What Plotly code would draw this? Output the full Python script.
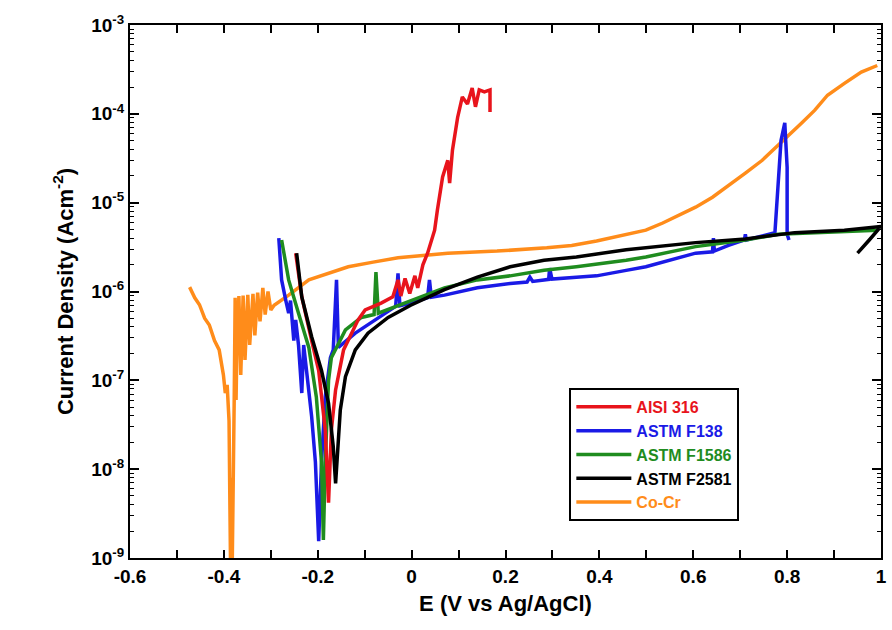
import plotly.graph_objects as go

# ---- data (E in V vs Ag/AgCl, current density in A/cm^2) ----
aisi316_E = [-0.247, -0.234, -0.213, -0.198, -0.184, -0.177, -0.171, -0.162, -0.145, -0.114,
             -0.099, -0.065, -0.040, -0.029, -0.023, -0.014, -0.004, 0.007, 0.013, 0.024,
             0.034, 0.049, 0.055, 0.066, 0.077, 0.081, 0.087, 0.098, 0.108, 0.119,
             0.129, 0.136, 0.144, 0.155, 0.167, 0.167]
aisi316_I = [2.7e-6, 8.7e-7, 2.8e-7, 1.29e-7, 2.75e-8, 4.2e-9, 2.75e-8, 7.8e-8, 2.2e-7, 4.8e-7,
             6.2e-7, 7.4e-7, 8.7e-7, 1.35e-6, 8.9e-7, 1.4e-6, 9.5e-7, 1.5e-6, 1.1e-6, 2.0e-6,
             2.7e-6, 4.9e-6, 8.3e-6, 1.95e-5, 3.0e-5, 1.66e-5, 3.9e-5, 9.1e-5, 1.55e-4, 1.29e-4,
             1.95e-4, 1.2e-4, 1.86e-4, 1.77e-4, 1.86e-4, 1.05e-4]

f138_E = [-0.283, -0.277, -0.268, -0.262, -0.258, -0.251, -0.247, -0.241, -0.234, -0.230,
          -0.224, -0.213, -0.205, -0.198, -0.192, -0.184, -0.173, -0.167, -0.160, -0.156,
          -0.120, -0.071, -0.034, -0.029, -0.025, -0.002, 0.034, 0.038, 0.042, 0.070,
          0.140, 0.210, 0.246, 0.252, 0.258, 0.282, 0.292, 0.294, 0.299, 0.351,
          0.394, 0.457, 0.499, 0.605, 0.641, 0.643, 0.645, 0.675, 0.709, 0.711,
          0.713, 0.774, 0.780, 0.787, 0.795, 0.800, 0.800, 0.804]
f138_I = [4.0e-6, 1.35e-6, 7.9e-7, 5.7e-7, 7.9e-7, 2.8e-7, 4.8e-7, 2.5e-7, 7.2e-8, 2.5e-7,
          1.3e-7, 3.9e-8, 1.2e-8, 1.55e-9, 1.2e-8, 6.5e-8, 1.8e-7, 2.2e-7, 1.35e-6, 2.35e-7,
          3.4e-7, 5.1e-7, 6.8e-7, 1.6e-6, 6.9e-7, 7.4e-7, 8.5e-7, 1.35e-6, 8.6e-7, 9.1e-7,
          1.1e-6, 1.23e-6, 1.28e-6, 1.45e-6, 1.3e-6, 1.35e-6, 1.37e-6, 1.83e-6, 1.38e-6, 1.45e-6,
          1.5e-6, 1.73e-6, 1.9e-6, 2.7e-6, 2.8e-6, 4.0e-6, 2.85e-6, 3.3e-6, 3.8e-6, 4.4e-6,
          3.8e-6, 4.6e-6, 1.5e-5, 5.0e-5, 7.9e-5, 2.5e-5, 4.4e-6, 3.8e-6]

f1586_E = [-0.277, -0.268, -0.262, -0.241, -0.219, -0.203, -0.192, -0.188, -0.184, -0.177,
           -0.171, -0.141, -0.107, -0.080, -0.076, -0.071, -0.002, 0.070, 0.140, 0.210,
           0.282, 0.351, 0.457, 0.499, 0.605, 0.711, 0.781, 0.886, 0.992]
f1586_I = [3.8e-6, 2.1e-6, 1.35e-6, 5.7e-7, 2.35e-7, 6.5e-8, 1.2e-8, 1.6e-9, 1.2e-8, 1.0e-7,
           1.8e-7, 3.7e-7, 5.1e-7, 5.5e-7, 1.65e-6, 5.7e-7, 7.9e-7, 1.1e-6, 1.35e-6, 1.5e-6,
           1.73e-6, 1.9e-6, 2.25e-6, 2.45e-6, 3.2e-6, 3.8e-6, 4.4e-6, 4.6e-6, 4.9e-6]

f2581_E = [-0.245, -0.234, -0.213, -0.192, -0.177, -0.167, -0.162, -0.152, -0.141, -0.120,
           -0.093, -0.050, -0.002, 0.070, 0.140, 0.210, 0.282, 0.351, 0.457, 0.605,
           0.711, 0.816, 0.922, 1.000, 0.975, 0.950]
f2581_I = [2.7e-6, 8.7e-7, 3.1e-7, 1.29e-7, 5.5e-8, 1.8e-8, 6.9e-9, 4.6e-8, 1.1e-7, 2.2e-7,
           3.4e-7, 5.1e-7, 7.0e-7, 1.05e-6, 1.45e-6, 1.9e-6, 2.25e-6, 2.45e-6, 2.95e-6, 3.55e-6,
           3.9e-6, 4.6e-6, 4.9e-6, 5.4e-6, 3.8e-6, 2.7e-6]

cocr_E = [-0.473, -0.462, -0.452, -0.441, -0.431, -0.420, -0.410, -0.401, -0.397, -0.393,
          -0.389, -0.386, -0.384, -0.382, -0.378, -0.376, -0.374, -0.372, -0.368, -0.364,
          -0.359, -0.355, -0.349, -0.345, -0.338, -0.334, -0.328, -0.323, -0.317, -0.312,
          -0.306, -0.300, -0.293, -0.262, -0.219, -0.177, -0.135, -0.082, -0.029, 0.077,
          0.182, 0.288, 0.341, 0.394, 0.463, 0.499, 0.535, 0.569, 0.605, 0.641,
          0.675, 0.711, 0.747, 0.774, 0.802, 0.831, 0.859, 0.886, 0.922, 0.958, 0.992]
cocr_I = [1.12e-6, 8.5e-7, 7.1e-7, 5.0e-7, 4.2e-7, 2.8e-7, 2.2e-7, 1.15e-7, 7.2e-8, 8.9e-8,
          3.5e-8, 1.0e-9, 8.0e-9, 1.0e-9, 6.0e-8, 8.5e-7, 6.0e-8, 3.0e-7, 8.9e-7, 1.15e-7,
          9.0e-7, 1.7e-7, 9.2e-7, 2.5e-7, 9.4e-7, 3.2e-7, 9.7e-7, 4.6e-7, 1.1e-6, 5.5e-7,
          1.0e-6, 6.2e-7, 7.0e-7, 9.1e-7, 1.35e-6, 1.62e-6, 1.9e-6, 2.14e-6, 2.4e-6, 2.7e-6,
          2.85e-6, 3.1e-6, 3.3e-6, 3.7e-6, 4.5e-6, 4.9e-6, 5.9e-6, 7.2e-6, 8.9e-6, 1.15e-5,
          1.58e-5, 2.15e-5, 3.0e-5, 4.1e-5, 5.5e-5, 7.9e-5, 1.1e-4, 1.62e-4, 2.2e-4, 2.95e-4, 3.5e-4]

series_names = ["AISI 316", "ASTM F138", "ASTM F1586", "ASTM F2581", "Co-Cr"]
series_colors = ["#e8141c", "#1a1ae6", "#1f8c1f", "#000000", "#ff8c1a"]

x_ticks = [-0.6, -0.4, -0.2, 0, 0.2, 0.4, 0.6, 0.8, 1]
x_tick_labels = ["-0.6", "-0.4", "-0.2", "0", "0.2", "0.4", "0.6", "0.8", "1"]
y_ticks = [1e-9, 1e-8, 1e-7, 1e-6, 1e-5, 1e-4, 1e-3]
y_tick_labels = ["10<sup>-9</sup>", "10<sup>-8</sup>", "10<sup>-7</sup>", "10<sup>-6</sup>",
                 "10<sup>-5</sup>", "10<sup>-4</sup>", "10<sup>-3</sup>"]

fig = go.Figure()
data = [(aisi316_E, aisi316_I), (f138_E, f138_I), (f1586_E, f1586_I),
        (f2581_E, f2581_I), (cocr_E, cocr_I)]
# draw order: Co-Cr first (behind) then others
order = [4, 1, 2, 0, 3]
for i in order:
    E, I = data[i]
    fig.add_trace(go.Scatter(
        x=E, y=I, mode="lines",
        line=dict(color=series_colors[i], width=3.5),
        name="<span style='color:%s'>%s</span>" % (series_colors[i], series_names[i]),
        legendrank=i + 1, showlegend=True))

minor_y = [m * 10 ** e for e in range(-9, -3) for m in range(2, 10)]
font_family = "Liberation Sans, Arial, sans-serif"

fig.update_layout(
    width=892, height=630,
    margin=dict(l=130, r=5, t=25, b=72),
    paper_bgcolor="white", plot_bgcolor="white",
    font=dict(family=font_family, size=19, color="black"),
    showlegend=True,
    legend=dict(x=0.585, y=0.319, xanchor="left", yanchor="top",
                bordercolor="black", borderwidth=2, bgcolor="white",
                font=dict(family=font_family, size=16, weight="bold"),
                itemwidth=55, tracegroupgap=0),
    xaxis=dict(range=[-0.6, 1.0], tickvals=x_ticks, ticktext=x_tick_labels,
               ticks="inside", ticklen=8, tickwidth=1.5, tickcolor="black",
               showline=True, linecolor="black", linewidth=2, mirror="ticks",
               showgrid=False, zeroline=False,
               tickfont=dict(family=font_family, size=19, weight="bold"),
               minor=dict(tickvals=[-0.5, -0.3, -0.1, 0.1, 0.3, 0.5, 0.7, 0.9],
                          ticks="inside", ticklen=8, tickwidth=1.5, tickcolor="black", showgrid=False),
               title=dict(text="E (V vs Ag/AgCl)", standoff=10,
                          font=dict(family=font_family, size=22, weight="bold"))),
    yaxis=dict(type="log", range=[-9, -3], tickvals=y_ticks, ticktext=y_tick_labels,
               ticks="inside", ticklen=9, tickwidth=1.5, tickcolor="black",
               showline=True, linecolor="black", linewidth=2, mirror="ticks",
               showgrid=False, zeroline=False,
               tickfont=dict(family=font_family, size=19, weight="bold"),
               minor=dict(tickvals=minor_y, ticks="inside", ticklen=4, tickwidth=1.2,
                          tickcolor="black", showgrid=False),
               title=dict(text="Current Density (Acm<sup>-2</sup>)", standoff=12,
                          font=dict(family=font_family, size=22, weight="bold"))),
)

fig.write_html("out.html")
